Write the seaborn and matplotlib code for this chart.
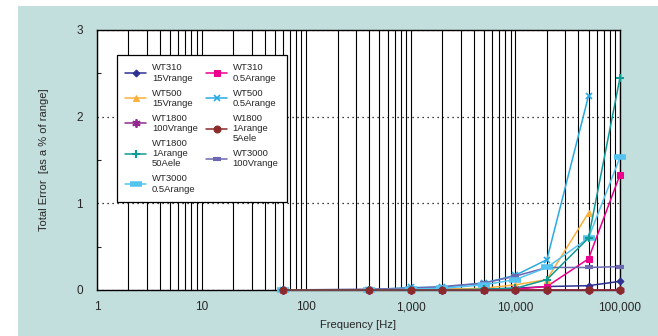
import numpy as np
import matplotlib
matplotlib.use('Agg')
import matplotlib.pyplot as plt
import seaborn as sns
from matplotlib.patches import Rectangle
from matplotlib.ticker import FixedLocator, LogLocator, NullFormatter

# frequencies (Hz) and total error (% of range) per instrument
freq = [60, 400, 1000, 2000, 5000, 10000, 20000, 50000, 100000]
wt310_15v = [0, 0, 0, 0.01, 0.01, 0.02, 0.04, 0.05, 0.10]
wt310_05a = [0, 0, 0, 0, 0, 0.01, 0.04, 0.36, 1.33]
wt500_15v = [0, 0, 0, 0.01, 0.02, 0.06, 0.12, 0.89, np.nan]
wt500_05a = [0, 0, 0.03, 0.03, 0.08, 0.17, 0.35, 2.24, np.nan]
wt1800_100v = [0, 0, 0, 0, 0, 0, 0, 0, 0]
w1800_1a_5aele = [0, 0, 0, 0, 0, 0, 0, 0, 0]
wt1800_1a_50aele = [0, 0, 0, 0, 0.01, 0.02, 0.12, 0.60, 2.45]
wt3000_100v = [0, 0.01, 0.02, 0.04, 0.08, 0.16, 0.26, 0.26, 0.27]
wt3000_05a = [0, 0, 0.01, 0.02, 0.06, 0.12, 0.26, 0.60, 1.53]

xtick_vals = [1, 10, 100, 1000, 10000, 100000]
xtick_labels = ['1', '10', '100', '1,000', '10,000', '100,000']

sns.set_style('white')
plt.rcParams['font.family'] = ['Liberation Sans', 'DejaVu Sans']
plt.rcParams['ytick.direction'] = 'in'

fig = plt.figure(figsize=(6.58, 3.36), dpi=100)
fig.patch.set_facecolor('white')
fig.patches.append(Rectangle((18 / 658, 0), 1, 1 - 6 / 336, transform=fig.transFigure,
                             facecolor='#c3dfdd', edgecolor='none', zorder=-10))

ax = fig.add_axes([97 / 658, 1 - 290 / 336, 523 / 658, 260 / 336])
ax.set_facecolor('white')

# legend order: column 1 then column 2
series = [
    ('WT310\n15Vrange', wt310_15v, '#2e3192', dict(marker='D', markersize=3.5)),
    ('WT500\n15Vrange', wt500_15v, '#fbb03b', dict(marker='^', markersize=5)),
    ('WT1800\n100Vrange', wt1800_100v, '#92278f', dict(marker=(6, 2, 0), markersize=6, markeredgewidth=1.3)),
    ('WT1800\n1Arange\n50Aele', wt1800_1a_50aele, '#0f9a94', dict(marker='+', markersize=6, markeredgewidth=1.5)),
    ('WT3000\n0.5Arange', wt3000_05a, '#55c3ef', dict(marker='_', markersize=9, markeredgewidth=4)),
    ('WT310\n0.5Arange', wt310_05a, '#ec008c', dict(marker='s', markersize=5)),
    ('WT500\n0.5Arange', wt500_05a, '#29abe2', dict(marker='x', markersize=5, markeredgewidth=1.2)),
    ('W1800\n1Arange\n5Aele', w1800_1a_5aele, '#8b2a2a', dict(marker='o', markersize=5)),
    ('WT3000\n100Vrange', wt3000_100v, '#6c68b2', dict(marker='_', markersize=6, markeredgewidth=3)),
]
draw_order = [0, 5, 1, 6, 2, 8, 4, 3, 7]
for i in draw_order:
    label, vals, color, mk = series[i]
    sns.lineplot(x=freq, y=vals, ax=ax, color=color, linewidth=1.1, label=label,
                 markeredgecolor=color, clip_on=False, zorder=3 + draw_order.index(i), **mk)

ax.set_xscale('log')
ax.set_xlim(1, 100000)
ax.set_ylim(0, 3)

# vertical grid at every log tick
ax.xaxis.set_major_locator(FixedLocator(xtick_vals))
ax.xaxis.set_minor_locator(LogLocator(base=10, subs=np.arange(2, 10)))
ax.xaxis.set_minor_formatter(NullFormatter())
ax.set_xticklabels(xtick_labels)
ax.grid(True, which='both', axis='x', color='black', linewidth=0.8)
ax.tick_params(axis='x', which='both', length=0, pad=8, labelsize=8.5)

# horizontal dotted grid
ax.set_yticks([0, 1, 2, 3])
ax.set_yticks([0.5, 1.5, 2.5], minor=True)
ax.grid(True, which='major', axis='y', color='black', linewidth=0.9, linestyle=(0, (1, 3)))
ax.tick_params(axis='y', which='major', length=0, pad=10, labelsize=8.5)
ax.tick_params(axis='y', which='minor', direction='in', length=3, width=0.8, left=True)
ax.set_axisbelow(True)

for s in ax.spines.values():
    s.set_color('black')
    s.set_linewidth(1.0)
    s.set_visible(True)

ax.set_xlabel('Frequency [Hz]', fontsize=8, labelpad=5)
ax.set_ylabel('Total Error  [as a % of range]', fontsize=8, labelpad=20)

handles, labels = ax.get_legend_handles_labels()
lookup = dict(zip(labels, handles))
order = [s[0] for s in series]
leg = ax.legend([lookup[l] for l in order], order, ncol=2, loc='upper left',
                bbox_to_anchor=(0.038, 0.904), borderaxespad=0, fontsize=6.8, frameon=True,
                fancybox=False, edgecolor='black', framealpha=1, numpoints=1, handlelength=2.2,
                labelspacing=0.6, columnspacing=0.9, borderpad=0.9, handletextpad=0.6)
leg.get_frame().set_linewidth(0.9)
leg.set_zorder(20)

fig.savefig('out.png', dpi=100, facecolor=fig.get_facecolor())
